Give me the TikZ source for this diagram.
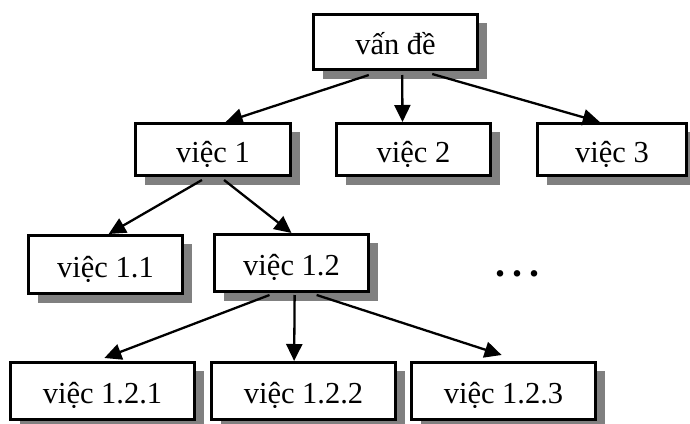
\documentclass[tikz,border=0pt]{standalone}
\usepackage{fontspec}
\setmainfont{Liberation Serif}
\usetikzlibrary{arrows.meta,shadows,calc}
\definecolor{shadowgray}{RGB}{128,128,128}
\tikzset{
  box/.style={draw=black, line width=2.8pt, fill=white, inner sep=0pt,
    font=\fontsize{30.5}{36}\selectfont, text height=25pt, text depth=0pt,
    drop shadow={shadow xshift=9.5pt, shadow yshift=-9pt, fill=shadowgray, opacity=1}},
  link/.style={line width=2.3pt, -{Triangle[length=17pt,width=16pt]}}
}
\newcommand{\bx}[6]{% name, left, top, right, bottom, text
  \node[box, minimum width={#4-#2-2.8pt}, minimum height={#5-#3-2.8pt}]
    (#1) at ({(#2+#4)/2},{(#3+#5)/2}) {#6};}
\begin{document}
\begin{tikzpicture}[x=1pt,y=-1pt]
\useasboundingbox (0,0) rectangle (690,423);
\bx{a}{312}{13}{479}{71}{vấn đề}
\bx{b}{134}{122}{292}{177}{việc 1}
\bx{c}{335}{122}{492}{177}{việc 2}
\bx{d}{536}{122}{688}{177}{việc 3}
\bx{e}{27}{234}{184}{295}{việc 1.1}
\bx{f}{213}{233}{370}{293}{việc 1.2}
\bx{g}{9}{361}{196}{421}{việc 1.2.1}
\bx{h}{210}{361}{397}{421}{việc 1.2.2}
\bx{i}{410}{361}{597}{421}{việc 1.2.3}
\node[font=\fontsize{40}{44}\selectfont\bfseries, inner sep=0pt] (dots) at (517,274) {.\hspace{7pt}.\hspace{7pt}.};
\draw[link] ($(a.south west)!0.34!(a.south east)+(0,4)$) -- ($(b.north west)!0.58!(b.north east)$);
\draw[link] ($(a.south west)!0.54!(a.south east)+(0,4)$) -- ($(c.north west)!0.43!(c.north east)$);
\draw[link] ($(a.south west)!0.72!(a.south east)+(0,3)$) -- ($(d.north west)!0.42!(d.north east)$);
\draw[link] ($(b.south west)!0.43!(b.south east)+(0,3)$) -- ($(e.north west)!0.52!(e.north east)$);
\draw[link] ($(b.south west)!0.57!(b.south east)+(0,3)$) -- ($(f.north west)!0.50!(f.north east)$);
\draw[link] ($(f.south west)!0.36!(f.south east)+(0,2)$) -- ($(g.north west)!0.51!(g.north east)+(0,-3)$);
\draw[link] ($(f.south west)!0.52!(f.south east)+(0,2)$) -- ($(h.north west)!0.45!(h.north east)$);
\draw[link] ($(f.south west)!0.66!(f.south east)+(0,2)$) -- ($(i.north west)!0.49!(i.north east)+(0,-6)$);
\end{tikzpicture}
\end{document}
